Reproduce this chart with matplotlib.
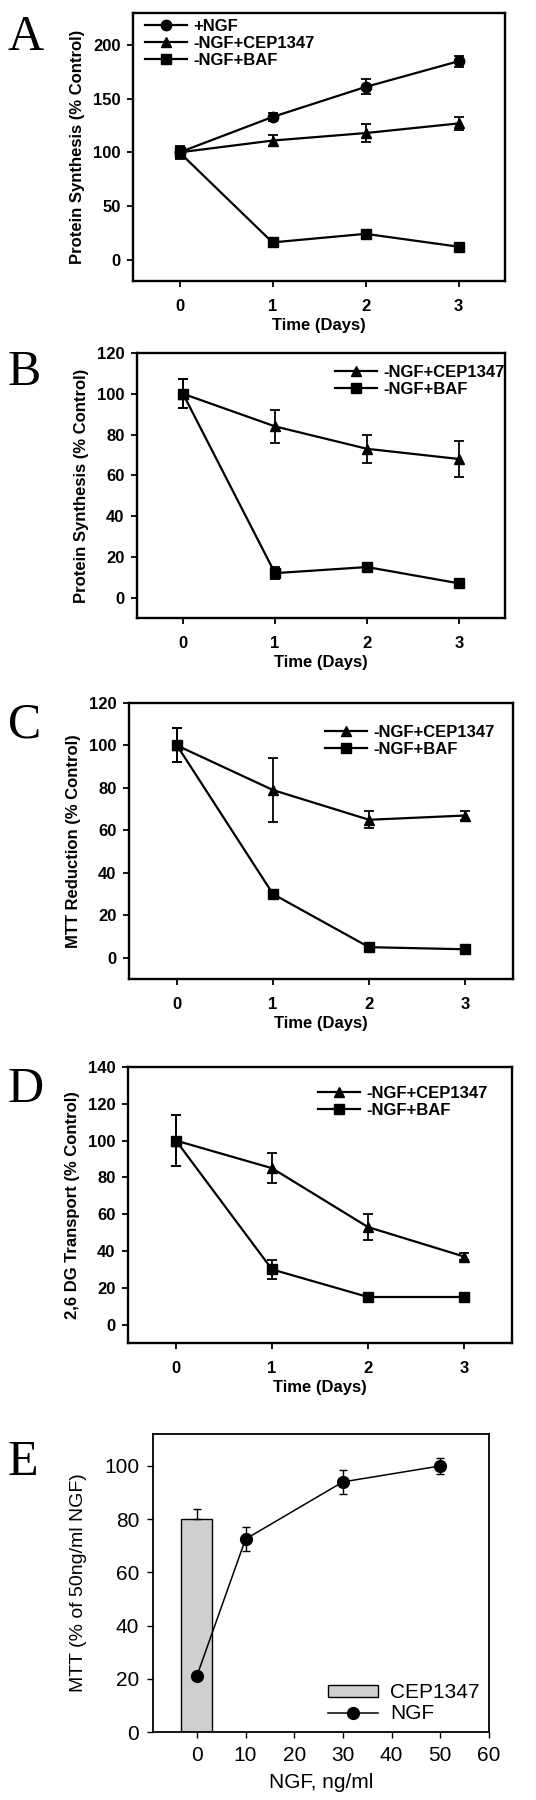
import matplotlib
matplotlib.use('Agg')
import matplotlib.pyplot as plt
from matplotlib.font_manager import FontProperties

# panel A - protein synthesis
days = [0, 1, 2, 3]
a_ngf = [100, 133, 161, 185]
a_ngf_err = [6, 4, 7, 5]
a_cep = [100, 111, 118, 127]
a_cep_err = [5, 5, 8, 6]
a_baf = [100, 16, 24, 12]
a_baf_err = [5, 2, 2, 2]

# panel B - protein synthesis
b_cep = [100, 84, 73, 68]
b_cep_err = [7, 8, 7, 9]
b_baf = [100, 12, 15, 7]
b_baf_err = [7, 3, 2, 1]

# panel C - MTT reduction
c_cep = [100, 79, 65, 67]
c_cep_err = [8, 15, 4, 2]
c_baf = [100, 30, 5, 4]
c_baf_err = [8, 1, 1, 1]

# panel D - 2,6 DG transport
d_cep = [100, 85, 53, 37]
d_cep_err = [14, 8, 7, 2]
d_baf = [100, 30, 15, 15]
d_baf_err = [14, 5, 1, 1]

# panel E - MTT vs NGF dose
e_bar_x = [0]
e_bar_y = [80]
e_bar_err = [4]
e_ngf_x = [0, 10, 30, 50]
e_ngf_y = [21, 72.5, 94, 100]
e_ngf_err = [1, 4.5, 4.5, 3]

W, H = 536, 1800
fig = plt.figure(figsize=(W / 100, H / 100), dpi=100)

bold = dict(family='Liberation Sans', weight='bold', size=12)
plain = dict(family='Liberation Sans', size=15)


def box(px):
    # px = (left, top, right, bottom) in pixels
    l, t, r, b = px
    return [l / W, 1 - b / H, (r - l) / W, (b - t) / H]


def time_panel(rect, series, ylim, yticks, ylabel, leg_anchor):
    ax = fig.add_axes(box(rect))
    for y, err, marker, label in series:
        ax.errorbar(days, y, yerr=err, fmt='none', ecolor='black',
                    capsize=3.5, elinewidth=1.3, capthick=1.3)
        ax.plot(days, y, color='black', marker=marker, ms=7.5, lw=1.6, label=label)
    ax.set_xlim(-0.5, 3.5)
    ax.set_ylim(*ylim)
    ax.set_xticks(days)
    ax.set_yticks(yticks)
    for s in ax.spines.values():
        s.set_linewidth(1.7)
    ax.tick_params(direction='out', length=4, width=1.3, pad=5)
    ax.tick_params(axis='x', pad=9)
    for lab in ax.get_xticklabels() + ax.get_yticklabels():
        lab.set_fontproperties(FontProperties(**bold))
    ax.set_xlabel('Time (Days)', labelpad=3, **bold)
    ax.set_ylabel(ylabel, labelpad=6, **bold)
    ax.legend(loc='upper left', bbox_to_anchor=leg_anchor, frameon=False,
              prop=FontProperties(**bold),
              borderpad=0, borderaxespad=0, handlelength=2.5,
              handletextpad=0.4, labelspacing=0.12)
    return ax


time_panel((133, 13, 505, 281),
           [(a_ngf, a_ngf_err, 'o', '+NGF'),
            (a_cep, a_cep_err, '^', '-NGF+CEP1347'),
            (a_baf, a_baf_err, 's', '-NGF+BAF')],
           (-20, 230), [0, 50, 100, 150, 200],
           'Protein Synthesis (% Control)', (0.032, 0.978))

time_panel((137, 353, 505, 618),
           [(b_cep, b_cep_err, '^', '-NGF+CEP1347'),
            (b_baf, b_baf_err, 's', '-NGF+BAF')],
           (-10, 120), [0, 20, 40, 60, 80, 100, 120],
           'Protein Synthesis (% Control)', (0.538, 0.954))

time_panel((129, 703, 513, 979),
           [(c_cep, c_cep_err, '^', '-NGF+CEP1347'),
            (c_baf, c_baf_err, 's', '-NGF+BAF')],
           (-10, 120), [0, 20, 40, 60, 80, 100, 120],
           'MTT Reduction (% Control)', (0.51, 0.92))

time_panel((128, 1067, 512, 1343),
           [(d_cep, d_cep_err, '^', '-NGF+CEP1347'),
            (d_baf, d_baf_err, 's', '-NGF+BAF')],
           (-10, 140), [0, 20, 40, 60, 80, 100, 120, 140],
           '2,6 DG Transport (% Control)', (0.495, 0.931))

# panel E
ax = fig.add_axes(box((153, 1434, 489, 1732)))
bars = ax.bar(e_bar_x, e_bar_y, width=6.3, color='#cfcfcf', edgecolor='black',
              lw=1, label='CEP1347', zorder=1)
ax.errorbar(e_bar_x, e_bar_y, yerr=[[0], e_bar_err], fmt='none', ecolor='black',
            elinewidth=1, capsize=3, zorder=2)
ax.errorbar(e_ngf_x, e_ngf_y, yerr=e_ngf_err, fmt='none', ecolor='black',
            elinewidth=1, capsize=3, zorder=3)
line, = ax.plot(e_ngf_x, e_ngf_y, color='black', marker='o', ms=8.5, lw=1.1,
                label='NGF', zorder=4)
ax.set_xlim(-9, 60)
ax.set_ylim(0, 112)
ax.set_xticks(range(0, 70, 10))
ax.set_yticks(range(0, 120, 20))
for s in ax.spines.values():
    s.set_linewidth(1.3)
ax.tick_params(direction='out', length=4, width=1, pad=6, labelsize=15)
for lab in ax.get_xticklabels() + ax.get_yticklabels():
    lab.set_family('Liberation Sans')
ax.set_xlabel('NGF, ng/ml', labelpad=6, **plain)
ax.set_ylabel('MTT (% of 50ng/ml NGF)', labelpad=12, family='Liberation Sans', size=14)
ax.legend([bars, line], ['CEP1347', 'NGF'], loc='upper left',
          bbox_to_anchor=(0.52, 0.164), frameon=False,
          prop=FontProperties(**plain),
          borderpad=0, borderaxespad=0, handlelength=2.4, handleheight=0.5,
          handletextpad=0.6, labelspacing=0.1)

# panel letters
for letter, base in zip('ABCDE', [50, 385, 737, 1102, 1475]):
    fig.text(8 / W, 1 - base / H, letter, family='Liberation Serif', size=36,
             va='baseline', ha='left')

fig.savefig('out.png', dpi=100)
